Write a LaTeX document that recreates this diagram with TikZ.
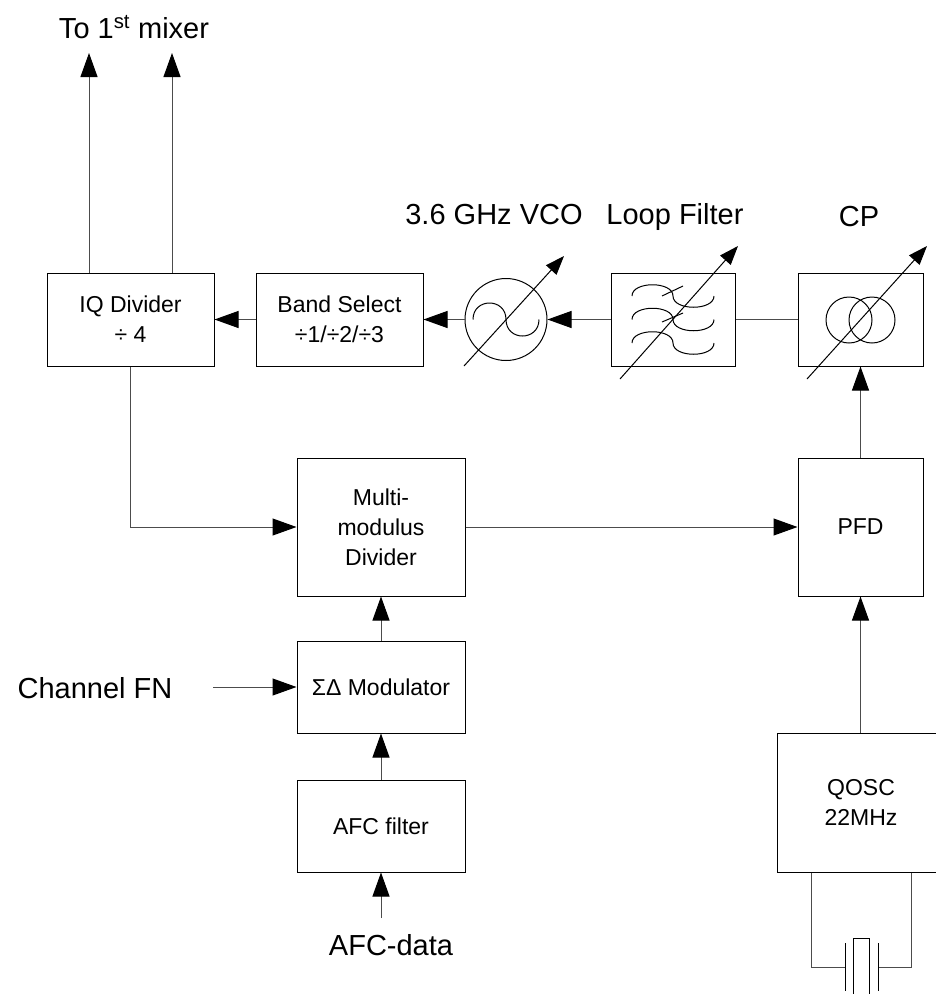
\documentclass[tikz,border=0pt]{standalone}
\usepackage{fontspec}
\setmainfont{Liberation Sans}
\usetikzlibrary{arrows.meta,calc}
\begin{document}
\begin{tikzpicture}[x=1pt,y=-1pt,
  blk/.style={draw=black,line width=1pt,inner sep=0pt,align=center,font=\fontsize{23}{30}\selectfont},
  lbl/.style={inner sep=0pt,font=\fontsize{29}{35}\selectfont,anchor=base},
  conn/.style={draw=black!70,line width=1pt},
  arr/.style={conn,-{Triangle[length=24pt,width=17pt,color=black]}},
  tune/.style={draw=black,line width=1pt,-{Triangle[length=19pt,width=14pt,color=black]}},
  sym/.style={draw=black,line width=1pt}]
\useasboundingbox (0,0) rectangle (936,994);
\clip (0,0) rectangle (936,994);

% blocks
\node[blk,minimum width=167pt,minimum height=93pt] (iq) at (130.5,319.5) {IQ Divider\\÷ 4};
\node[blk,minimum width=167pt,minimum height=93pt] (band) at (339.5,319.5) {Band Select\\÷1/÷2/÷3};
\node[draw=black,circle,minimum size=82pt,inner sep=0pt,line width=1pt] (vco) at (506,319.5) {};
\node[blk,minimum width=124pt,minimum height=93pt] (lf) at (673,319.5) {};
\node[blk,minimum width=125pt,minimum height=93pt] (cp) at (860.5,319.5) {};
\node[blk,minimum width=125pt,minimum height=138pt] (pfd) at (860.5,527) {PFD};
\node[blk,minimum width=168pt,minimum height=138pt] (mmd) at (381,527) {Multi-\\modulus\\Divider};
\node[blk,minimum width=168pt,minimum height=92pt] (sd) at (381,687) {ΣΔ Modulator};
\node[blk,minimum width=168pt,minimum height=92pt] (afc) at (381,826) {AFC filter};
\node[blk,minimum width=168pt,minimum height=139pt] (qosc) at (861,802.5) {QOSC\\22MHz};

% labels
\node[lbl] (mix) at (134,38) {To 1\textsuperscript{st} mixer};
\node[lbl] (vcol) at (494,224) {3.6 GHz VCO};
\node[lbl] (lfl) at (675,224) {Loop Filter};
\node[lbl] (cpl) at (859,226) {CP};
\node[lbl] (chfn) at (95,698) {Channel FN};
\node[lbl] (afcd) at (391,955) {AFC-data};

% free ends
\coordinate (o1) at (89,53);
\coordinate (o2) at (172,53);
\coordinate (chin) at (213,687);
\coordinate (afcin) at (381,918);

% connectors
\draw[arr] (iq.north -| o1) -- (o1);
\draw[arr] (iq.north -| o2) -- (o2);
\draw[arr] (band.west) -- (iq.east);
\draw[arr] (vco.west) -- (band.east);
\draw[arr] (lf.west) -- (vco.east);
\draw[conn] (cp.west) -- (lf.east);
\draw[arr] (pfd.north) -- (cp.south);
\draw[arr] (qosc.north -| pfd.south) -- (pfd.south);
\draw[arr] (iq.south) |- (mmd.west);
\draw[arr] (mmd.east) -- (pfd.west);
\draw[arr] (sd.north) -- (mmd.south);
\draw[arr] (chin) -- (sd.west);
\draw[arr] (afc.north) -- (sd.south);
\draw[arr] (afcin) -- (afc.south);

% VCO symbol
\draw[sym] (473,319.5) .. controls (473,297.5) and (506,297.5) .. (506,319.5)
                       .. controls (506,341.5) and (539,341.5) .. (539,319.5);
\draw[tune] (464,366) -- (564,256);

% loop filter symbol
\foreach \ym in {296,319.5,343}{
  \draw[sym] (632,\ym) .. controls (632,\ym-15) and (673,\ym-15) .. (673,\ym)
                       .. controls (673,\ym+15) and (714,\ym+15) .. (714,\ym);
}
\draw[sym] (662,296) -- (683,286);
\draw[sym] (662,322) -- (683,313);
\draw[tune] (620,379) -- (738,246);

% charge pump symbol
\draw[sym] (849,320) circle[radius=23];
\draw[sym] (872,320) circle[radius=23];
\draw[tune] (807,379) -- (927,246);

% crystal
\coordinate (xl) at (811,967);
\coordinate (xr) at (911,967);
\draw[conn] (qosc.south -| xl) -- (xl) -- (845,967);
\draw[conn] (qosc.south -| xr) -- (xr) -- (878,967);
\draw[sym] (845,943) -- (845,991);
\draw[sym] (878,943) -- (878,991);
\draw[sym] (853,996) -- (853,938) -- (869,938) -- (869,996);
\end{tikzpicture}
\end{document}
